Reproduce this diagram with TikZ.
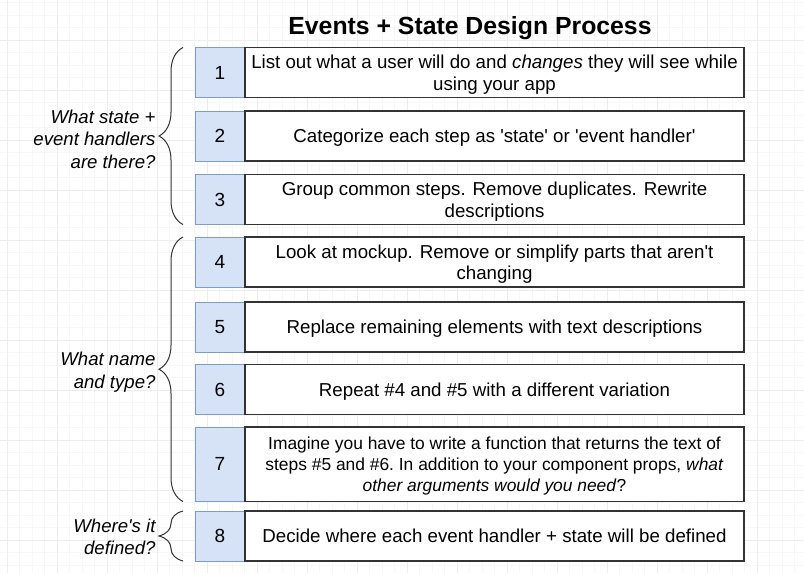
\documentclass[tikz,border=0pt]{standalone}
\usepackage{fontspec}
\setmainfont{Liberation Sans}[Ligatures=TeXOff]
\usetikzlibrary{positioning,decorations.pathreplacing}

\definecolor{numfill}{HTML}{D6E2F6}
\definecolor{numline}{HTML}{7D9CCB}
\definecolor{boxline}{HTML}{333333}
\definecolor{gridminor}{HTML}{F7F7F7}
\definecolor{gridmajor}{HTML}{EDEDED}

\tikzset{
  numbox/.style={draw=numline, fill=numfill, line width=1pt, minimum width=50pt,
    inner sep=0pt, outer sep=0pt, font=\fontsize{19}{22}\selectfont},
  stepbox/.style={draw=boxline, fill=white, line width=1.3pt, minimum width=499pt,
    align=center, inner sep=0pt, outer sep=0pt, text depth=0pt,
    font=\fontsize{18.7}{21.5}\selectfont},
  sidelabel/.style={anchor=east, align=right, font=\fontsize{18.6}{22.5}\selectfont\itshape},
  sidebrace/.style={draw=boxline, line width=1pt, decorate,
    decoration={brace, amplitude=24pt}},
}

\begin{document}
\begin{tikzpicture}[x=1pt, y=-1pt]
  \useasboundingbox (0,0) rectangle (804,573);
  \fill[white] (0,0) rectangle (804,573);

  % background grid
  \foreach \x in {-5.2,7.3,...,804} \draw[gridminor, line width=0.7pt] (\x,0) -- (\x,573);
  \foreach \y in {2.5,15,...,573} \draw[gridminor, line width=0.7pt] (0,\y) -- (804,\y);
  \foreach \x in {7.3,57.3,...,804} \draw[gridmajor, line width=0.8pt] (\x,0) -- (\x,573);
  \foreach \y in {40,90,...,573} \draw[gridmajor, line width=0.8pt] (0,\y) -- (804,\y);

  \node[font=\fontsize{24.8}{28}\selectfont\bfseries] (title) at (470,28) {Events + State Design Process};

  % steps
  \node[numbox, minimum height=50pt] (n1) at (220,72.5) {1};
  \node[stepbox, minimum height=50pt, right=0pt of n1] (t1)
    {List out what a user will do and \emph{changes} they will see while\\ using your app};

  \node[numbox, minimum height=50pt] (n2) at (220,136) {2};
  \node[stepbox, minimum height=50pt, right=0pt of n2] (t2)
    {Categorize each step as 'state' or 'event handler'};

  \node[numbox, minimum height=50pt] (n3) at (220,199.5) {3};
  \node[stepbox, minimum height=50pt, right=0pt of n3] (t3)
    {Group common steps. Remove duplicates. Rewrite\\ descriptions};

  \node[numbox, minimum height=50pt] (n4) at (220,262) {4};
  \node[stepbox, minimum height=50pt, right=0pt of n4] (t4)
    {Look at mockup. Remove or simplify parts that aren't\\ changing};

  \node[numbox, minimum height=50pt] (n5) at (220,327) {5};
  \node[stepbox, minimum height=50pt, right=0pt of n5] (t5)
    {Replace remaining elements with text descriptions};

  \node[numbox, minimum height=50pt] (n6) at (220,389.5) {6};
  \node[stepbox, minimum height=50pt, right=0pt of n6] (t6)
    {Repeat \#4 and \#5 with a different variation};

  \node[numbox, minimum height=74.5pt] (n7) at (220,464.25) {7};
  \node[stepbox, minimum height=74.5pt, right=0pt of n7, font=\fontsize{17.4}{21}\selectfont] (t7)
    {Imagine you have to write a function that returns the text of\\
     steps \#5 and \#6.\ In addition to your component props, \emph{what}\\
     \emph{other arguments would you need}?};

  \node[numbox, minimum height=50pt] (n8) at (220,536) {8};
  \node[stepbox, minimum height=50pt, right=0pt of n8] (t8)
    {Decide where each event handler + state will be defined};

  % groups
  \draw[sidebrace] ([xshift=-12pt]n3.south west) -- ([xshift=-12pt]n1.north west);
  \node[sidelabel] (g1) at (159,139) {What state +\\ event handlers\\ are there?};

  \draw[sidebrace] ([xshift=-12pt]n7.south west) -- ([xshift=-12pt]n4.north west);
  \node[sidelabel] (g2) at (159,372) {What name\\ and type?};

  \draw[sidebrace] ([xshift=-12pt]n8.south west) -- ([xshift=-12pt]n8.north west);
  \node[sidelabel] (g3) at (159,537) {Where's it\\ defined?};
\end{tikzpicture}
\end{document}
